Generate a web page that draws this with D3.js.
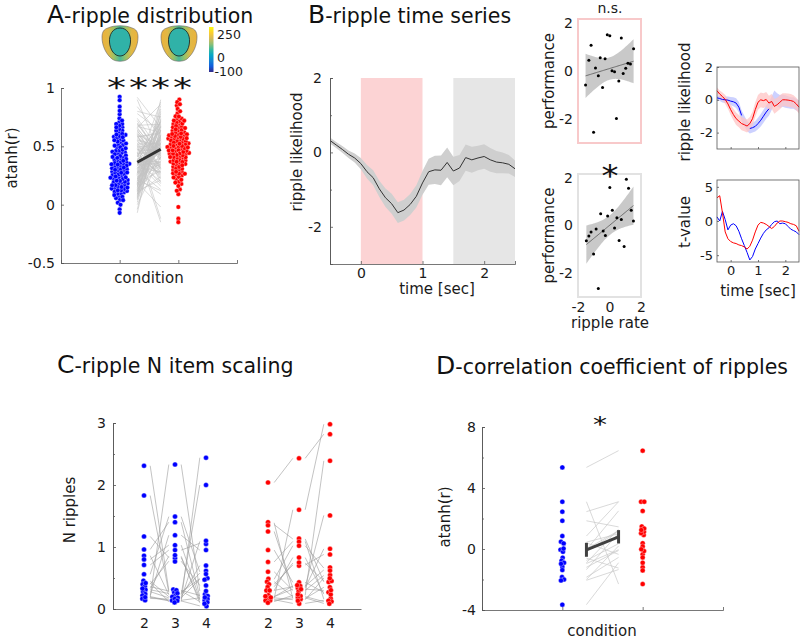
<!DOCTYPE html>
<html>
<head>
<meta charset="utf-8">
<script src="https://cdn.jsdelivr.net/npm/d3@7"></script>
<style>
body{margin:0;background:#fff}
svg{font-family:"DejaVu Sans",Verdana,sans-serif}
</style>
</head>
<body>
<div id="graphHolder"></div>
<script>
// ---------- data ----------
// A: atanh(r) per electrode, two conditions (paired)
const blueA = [0.31,0.62,0.18,0.45,0.08,0.53,0.27,0.70,0.14,0.39,
	0.22,0.58,0.35,0.11,0.48,0.92,0.26,0.05,0.66,0.33,
	0.19,0.41,0.74,0.29,0.12,0.55,0.37,0.21,0.63,0.16,
	0.44,0.02,0.30,0.51,0.24,0.68,0.09,0.36,0.57,0.17,
	0.84,0.28,0.43,0.13,0.60,0.32,-0.04,0.47,0.23,0.65,
	0.15,0.38,0.52,0.20,0.10,0.46,0.34,0.72,0.25,0.59,
	0.07,0.42,0.19,0.31,0.67,0.14,0.50,0.27,0.90,0.36,
	0.22,0.56,0.04,0.40,0.29,0.61,0.17,0.33,0.49,0.12,
	0.78,0.24,0.45,0.35,-0.07,0.54,0.20,0.64,0.30,0.16,
	0.42,0.26,0.69,0.11,0.37,0.58,0.21,0.47,0.13,0.32,
	0.80,0.23,0.39,0.06,0.52,0.28,0.18,0.44,0.66,0.34,
	0.09,0.55,0.25,0.41,0.15,0.60,0.00,0.38,0.27,0.48]
const redA = [0.52,0.31,0.68,0.44,0.85,0.27,0.59,0.40,0.73,0.18,
	0.49,0.62,0.35,0.56,0.22,0.66,0.47,0.90,0.38,0.54,
	0.29,0.71,0.45,0.13,0.60,0.51,0.33,0.78,0.42,0.57,
	0.25,0.64,0.48,-0.12,0.37,0.69,0.53,0.20,0.46,0.82,
	0.58,0.34,0.63,0.41,0.50,0.28,0.74,0.55,0.09,0.43,
	0.67,0.36,0.52,0.61,0.24,0.47,0.88,0.39,0.57,0.30,
	0.45,0.70,-0.02,0.53,0.62,0.32,0.49,0.76,0.41,0.16,
	0.59,0.44,0.65,0.27,0.51,0.38,0.72,0.55,0.46,0.21,
	0.63,0.35,-0.15,0.48,0.80,0.42,0.58,0.31,0.67,0.50,
	0.26,0.54,0.44,0.69,0.37,0.61,0.12,0.47,0.56,0.40,
	0.75,0.33,0.52,0.64,0.23,0.49,0.58,0.43,0.86,0.36,
	0.60,0.28,0.46,0.71,0.53,0.19,0.41,0.66,0.50,0.34]
const colorbarTicks = [250, 0, -100]

// B: ripple likelihood time course
const times = [-0.5,-0.4,-0.3,-0.2,-0.1,0,0.1,0.2,0.3,0.4,0.5,0.6,0.7,0.8,0.9,1.0,
	1.1,1.2,1.3,1.4,1.5,1.6,1.7,1.8,1.9,2.0,2.1,2.2,2.3,2.4,2.5]
const rippleMean = [0.32,0.2,0.08,-0.05,-0.15,-0.3,-0.52,-0.68,-0.98,-1.22,-1.38,-1.62,-1.55,-1.4,-1.18,-0.82,
	-0.52,-0.47,-0.48,-0.27,-0.5,-0.42,-0.14,-0.2,-0.15,-0.11,-0.2,-0.26,-0.28,-0.32,-0.44]
const rippleSem = [0.08,0.08,0.09,0.1,0.12,0.15,0.18,0.2,0.22,0.25,0.27,0.28,0.28,0.28,0.3,0.32,
	0.35,0.38,0.4,0.4,0.38,0.35,0.35,0.35,0.33,0.33,0.32,0.3,0.28,0.25,0.22]
const encWindow = [0, 1], retWindow = [1.5, 2.5]

// B: ripple rate vs performance
const rateEnc = [-1.52,-1.31,-1.17,-0.89,-0.71,-1.01,-0.59,-0.44,-0.28,-0.14,0.02,0.16,0.32,0.44,0.59,0.75,0.87,1.03,1.17,1.33,1.53]
const perfEnc = [-0.59,0.44,1.06,0.12,-0.21,-2.55,0.54,-0.7,0.5,1.5,1.45,0.0,-0.04,-1.98,-0.43,1.36,-0.11,0.1,0.31,0.28,0.91]
const rateRet = [-1.47,-1.31,-1.17,-1.01,-0.85,-0.71,-0.56,-0.4,-0.26,-0.12,0.02,0.18,0.32,0.47,0.61,0.75,0.93,1.07,1.21,1.38,1.52]
const perfRet = [-0.65,-0.45,-0.28,-1.2,-0.15,-2.64,0.49,-0.24,-0.42,0.39,1.58,0.63,-0.11,0.32,-0.63,0.25,-0.89,1.93,1.55,0.63,0.18]

// B: per-condition likelihood and t-values
const likeBlue = [0.12,0.08,0.02,0.0,-0.02,-0.08,-0.12,-0.2,-0.45,-0.95,-1.3,-1.6,-1.75,-1.7,-1.62,-1.45,
	-1.25,-1.0,-0.75,-0.55,-0.2,0.15,0.0,-0.1,-0.05,-0.1,-0.15,-0.2,-0.2,-0.3,-0.4]
const likeBlueSem = [0.15,0.15,0.18,0.2,0.22,0.25,0.28,0.3,0.32,0.32,0.32,0.3,0.3,0.3,0.32,0.35,
	0.38,0.4,0.4,0.42,0.42,0.42,0.4,0.4,0.38,0.38,0.36,0.35,0.35,0.35,0.35]
const blueGaps = [[0.45, 0.65], [1.45, 2.6]]
const likeRed = [0.55,0.35,0.2,0.02,-0.25,-0.6,-0.9,-1.15,-1.3,-1.45,-1.52,-1.6,-1.45,-1.15,-0.6,-0.15,
	0.0,-0.05,0.02,-0.2,-0.1,-0.4,-0.3,-0.15,0.0,0.0,-0.02,-0.05,-0.1,-0.25,-0.45]
const likeRedSem = [0.2,0.22,0.25,0.28,0.3,0.32,0.35,0.38,0.38,0.4,0.4,0.4,0.4,0.42,0.45,0.45,
	0.45,0.45,0.45,0.45,0.45,0.45,0.42,0.42,0.4,0.4,0.4,0.4,0.38,0.38,0.38]
const tBlue = [0.6,0.0,1.4,0.2,-1.3,-0.6,-0.4,-0.7,-1.5,-2.6,-3.6,-4.6,-5.7,-5.2,-4.1,-3.3,
	-2.5,-1.8,-1.3,-1.0,-0.5,-0.1,0.0,-0.4,-0.3,-0.4,-0.8,-1.2,-1.4,-1.6,-2.0]
const tRed = [3.4,3.7,1.2,-1.6,-2.6,-3.0,-3.2,-3.3,-3.5,-3.6,-3.8,-4.1,-3.7,-2.8,-1.6,-0.6,
	-0.2,-0.3,-0.5,-0.8,-1.1,-0.8,-0.3,0.0,0.0,-0.1,-0.2,-0.4,-0.5,-0.7,-1.5]

// C: N ripples per memory load (rows = subjects)
const loads = ['2', '3', '4']
const blueLoad2 = [2.31,1.83,1.17,0.96,0.86,0.80,0.71,0.56,0.45,0.40,0.36,0.31,0.28,0.22,0.20,0.18,0.17,0.19,0.33,0.42]
const blueLoad3 = [0.30,0.27,0.83,1.40,0.23,1.03,0.95,1.49,0.20,0.77,0.29,0.25,0.18,1.19,0.14,2.33,0.16,0.13,0.85,0.12]
const blueLoad4 = [0.22,0.49,0.14,0.20,2.00,0.16,1.06,0.60,0.70,0.38,0.12,0.58,0.48,0.95,0.18,0.29,1.09,0.05,0.10,2.44]
const redLoad2 = [2.04,1.39,1.36,1.25,0.95,0.76,0.60,0.48,0.44,0.40,0.36,0.30,0.20,0.17,0.15,0.14,0.20,0.30,0.18,0.12]
const redLoad3 = [2.43,0.17,1.13,0.34,0.43,1.09,0.30,1.02,0.20,0.71,0.74,0.83,0.37,1.60,0.09,0.18,0.32,0.36,0.15,0.22]
const redLoad4 = [2.82,0.35,0.44,0.97,0.27,0.16,0.54,0.66,0.12,0.88,0.45,0.24,0.63,2.98,0.14,0.09,0.30,1.51,0.50,2.39]

// D: correlation coefficient of ripples (paired)
const blueD = [5.35,3.1,2.45,1.85,0.85,0.45,0.4,-0.05,-0.15,-0.6,-0.75,-0.9,-1.2,-1.35,-1.85,-2.0,-2.05,-3.65,0.0,-0.95]
const redD = [6.45,-2.3,3.1,1.45,3.1,1.0,-0.35,2.5,1.15,-1.25,0.35,1.3,-0.1,1.05,-0.55,0.2,-1.35,-0.9,1.2,-0.05]

// ---------- drawing ----------
const BLUE = '#0000ff', RED = '#ff0000', INK = '#1a1a1a', AXC = '#555'
const svg = d3.select('#graphHolder').append('svg').attr('width', 800).attr('height', 643)
const fmt = d => String(d)

function axis(gen, x, y, size){
	const g = svg.append('g').attr('transform', `translate(${x},${y})`).call(gen)
	g.selectAll('path,line').attr('stroke', AXC).attr('stroke-width', 0.8)
	g.selectAll('text').attr('fill', INK).style('font-size', (size || 14) + 'px').style('font-family', 'DejaVu Sans')
	return g
}
function label(x, y, txt, rot, size){
	svg.append('text').attr('transform', `translate(${x},${y})` + (rot ? ' rotate(-90)' : ''))
		.attr('text-anchor', 'middle').attr('fill', INK).style('font-size', (size || 15) + 'px').text(txt)
}
function title(x, y, letter, rest){
	const t = svg.append('text').attr('x', x).attr('y', y).attr('fill', '#111')
	t.append('tspan').style('font-size', '25px').text(letter)
	t.append('tspan').style('font-size', '20.5px').text(rest)
}
// significance stars, squashed a little to match the flat asterisks of the figure
function star(x, y, txt, size, sy, spacing){
	svg.append('text').attr('transform', `translate(${x},${y}) scale(1,${sy})`).attr('text-anchor', 'middle')
		.attr('fill', '#111').style('font-size', size + 'px').style('letter-spacing', (spacing || 0) + 'px').text(txt)
}
// jitter points around a column with a small collision layout
function swarm(values, cx, y, r, sx){
	const nodes = values.map((v, i) => ({v: v, i: i, x: cx, y: y(v)}))
	const sim = d3.forceSimulation(nodes)
		.force('x', d3.forceX(cx).strength(sx))
		.force('y', d3.forceY(d => y(d.v)).strength(0.9))
		.force('collide', d3.forceCollide(r))
		.stop()
	for(let k = 0; k < 160; k++) sim.tick()
	return nodes
}
function dots(nodes, r, color){
	svg.append('g').selectAll('circle').data(nodes).enter().append('circle')
		.attr('cx', d => d.x).attr('cy', d => d.y).attr('r', r)
		.attr('fill', color).attr('stroke', '#fff').attr('stroke-width', 0.35)
}
const mean = a => d3.mean(a)
const sem = a => d3.deviation(a) / Math.sqrt(a.length)

// ===== A =====
title(47, 23, 'A', '-ripple distribution')
const defs = svg.append('defs')
const hg = defs.append('linearGradient').attr('id', 'headGrad')
;[[0,'#ecb23a'],[0.18,'#e0b846'],[0.34,'#98c266'],[0.5,'#46b89a'],[0.66,'#98c266'],[0.82,'#e0b846'],[1,'#ecb23a']]
	.forEach(s => hg.append('stop').attr('offset', s[0]).attr('stop-color', s[1]))
const parula = ['#352a87','#0f5cdd','#1283d4','#06a7c6','#38b99e','#92bf73','#d9ba56','#fcce2e','#f9fb0e']
const cg = defs.append('linearGradient').attr('id', 'cbar').attr('x1', 0).attr('x2', 0).attr('y1', 1).attr('y2', 0)
parula.forEach((c, i) => cg.append('stop').attr('offset', i / (parula.length - 1)).attr('stop-color', c))

function head(cx, cy){
	const g = svg.append('g').attr('transform', `translate(${cx},${cy})`)
	g.append('path').attr('d', 'M-12,-16C-6,-19 6,-19 12,-16C16,-15 18,-12 18,-7C18,2 14,10 8,15C4,18 -4,18 -8,15C-14,10 -18,2 -18,-7C-18,-12 -16,-15 -12,-16Z')
		.attr('fill', 'url(#headGrad)').attr('stroke', '#666').attr('stroke-width', 0.6)
	g.append('path').attr('d', 'M0,-16C7.5,-16 11,-9 10.5,-2C10,6 5.5,12 0,12C-5.5,12 -10,6 -10.5,-2C-11,-9 -7.5,-16 0,-16Z')
		.attr('fill', '#30b2a8').attr('stroke', '#1a1a1a').attr('stroke-width', 0.8)
}
head(120, 44)
head(179, 44)
const cbY = d3.scaleLinear().domain([-100, 250]).range([72, 27])
svg.append('rect').attr('x', 209).attr('y', cbY(250)).attr('width', 4.5).attr('height', cbY(-100) - cbY(250)).attr('fill', 'url(#cbar)')
svg.append('g').selectAll('text').data(colorbarTicks).enter().append('text')
	.attr('x', d => d < 0 ? 214.5 : 217).attr('y', d => cbY(d) + (d === 250 ? 12 : d === 0 ? 3 : 4))
	.attr('fill', INK).style('font-size', '12.5px').text(fmt)
star(151, 97, '****', 38, 0.7, 3)

const xA = d3.scaleLinear().domain([0, 3]).range([61, 237])
const yA = d3.scaleLinear().domain([-0.5, 1]).range([263, 88])
svg.append('g').selectAll('line').data(blueA).enter().append('line')
	.attr('x1', xA(1.3)).attr('x2', xA(1.7))
	.attr('y1', d => yA(d)).attr('y2', (d, i) => yA(redA[i]))
	.attr('stroke', '#c2c2c2').attr('stroke-width', 0.6)
svg.append('line').attr('x1', xA(1.3)).attr('x2', xA(1.7))
	.attr('y1', yA(mean(blueA))).attr('y2', yA(mean(redA)))
	.attr('stroke', '#333').attr('stroke-width', 3)
dots(swarm(blueA, xA(1), yA, 1.7, 0.12), 2.3, BLUE)
dots(swarm(redA, xA(2), yA, 1.7, 0.12), 2.3, RED)
axis(d3.axisLeft(yA).tickValues([-0.5, 0, 0.5, 1]).tickFormat(fmt).tickSize(-3).tickPadding(6), 61, 0)
axis(d3.axisBottom(xA).tickValues([1, 2]).tickFormat('').tickSize(-3), 0, 263)
label(149, 283, 'condition')
label(17, 158, 'atanh(r)', true)

// ===== B main =====
title(308, 23, 'B', '-ripple time series')
const xB = d3.scaleLinear().domain([-0.5, 2.5]).range([330, 515])
const yB = d3.scaleLinear().domain([-3, 2]).range([264, 78])
svg.append('rect').attr('x', xB(encWindow[0])).attr('width', xB(encWindow[1]) - xB(encWindow[0]))
	.attr('y', yB(2)).attr('height', yB(-3) - yB(2)).attr('fill', '#fcd3d4')
svg.append('rect').attr('x', xB(retWindow[0])).attr('width', xB(retWindow[1]) - xB(retWindow[0]))
	.attr('y', yB(2)).attr('height', yB(-3) - yB(2)).attr('fill', '#e6e6e6')
const rows = times.map((t, i) => ({t: t, m: rippleMean[i], s: rippleSem[i]}))
svg.append('path').datum(rows).attr('fill', '#cfcfcf')
	.attr('d', d3.area().x(d => xB(d.t)).y0(d => yB(d.m - d.s)).y1(d => yB(d.m + d.s)))
svg.append('path').datum(rows).attr('fill', 'none').attr('stroke', '#333').attr('stroke-width', 1)
	.attr('d', d3.line().x(d => xB(d.t)).y(d => yB(d.m)))
axis(d3.axisLeft(yB).tickValues([-2, 0, 2]).tickFormat(fmt).tickSize(-3).tickPadding(8), 330, 0)
axis(d3.axisLeft(yB).tickValues([-1, 1]).tickFormat('').tickSize(-2), 330, 0)
axis(d3.axisBottom(xB).tickValues([0, 1, 2]).tickFormat(fmt).tickSize(-3).tickPadding(4), 0, 264)
label(437, 294, 'time [sec]')
label(302, 152, 'ripple likelihood', true)

// ===== B scatters =====
function scatterPanel(xs, ys, top, bottom, border, showX){
	const x = d3.scaleLinear().domain([-2, 2]).range([578, 641])
	const y = d3.scaleLinear().domain([-3, 2.15]).range([bottom, top])
	const n = xs.length, mx = mean(xs), my = mean(ys)
	const sxx = d3.sum(xs, v => (v - mx) * (v - mx))
	const b = d3.sum(xs, (v, i) => (v - mx) * (ys[i] - my)) / sxx, a = my - b * mx
	const s = Math.sqrt(d3.sum(xs, (v, i) => Math.pow(ys[i] - a - b * v, 2)) / (n - 2))
	const ext = d3.extent(xs)
	const grid = d3.range(0, 41).map(k => ext[0] + (ext[1] - ext[0]) * k / 40)
	const band = grid.map(v => ({x: v, f: a + b * v, h: 2.09 * s * Math.sqrt(1 / n + (v - mx) * (v - mx) / sxx)}))
	svg.append('rect').attr('x', 578).attr('y', top).attr('width', 63).attr('height', bottom - top)
		.attr('fill', 'none').attr('stroke', border).attr('stroke-width', 2)
	svg.append('path').datum(band).attr('fill', '#c9c9c9')
		.attr('d', d3.area().x(d => x(d.x)).y0(d => y(d.f - d.h)).y1(d => y(d.f + d.h)))
	svg.append('path').datum(band).attr('fill', 'none').attr('stroke', '#555').attr('stroke-width', 0.8)
		.attr('d', d3.line().x(d => x(d.x)).y(d => y(d.f)))
	svg.append('g').selectAll('circle').data(xs).enter().append('circle')
		.attr('cx', d => x(d)).attr('cy', (d, i) => y(ys[i])).attr('r', 1.5).attr('fill', '#000')
	const ya = axis(d3.axisLeft(y).tickValues([-2, 0, 2]).tickFormat(fmt).tickSize(0).tickPadding(5), 578, 0)
	ya.select('.domain').remove()
	if(showX){
		const xa = axis(d3.axisBottom(x).tickValues([-2, 0, 2]).tickFormat(fmt).tickSize(0).tickPadding(5), 0, bottom)
		xa.select('.domain').remove()
	}
	label(554, (top + bottom) / 2, 'performance', true)
}
scatterPanel(rateEnc, perfEnc, 19, 143, '#f8c9ca', false)
scatterPanel(rateRet, perfRet, 174, 297, '#e2e2e2', true)
label(610, 13, 'n.s.', false, 14)
star(610, 186, '*', 34, 0.9)
label(610, 328, 'ripple rate')

// ===== B small right panels =====
const xS = d3.scaleLinear().domain([-0.5, 2.5]).range([717, 799])
const yS1 = d3.scaleLinear().domain([-3, 2]).range([149, 67])
const yS2 = d3.scaleLinear().domain([-6, 6]).range([262, 180])
function box(y0, y1){
	svg.append('rect').attr('x', 717).attr('y', y0).attr('width', 82).attr('height', y1 - y0)
		.attr('fill', 'none').attr('stroke', AXC).attr('stroke-width', 0.8)
}
const inGap = t => blueGaps.some(g => t > g[0] && t < g[1])
const rowsBlue = times.map((t, i) => ({t: t, m: likeBlue[i], s: likeBlueSem[i]}))
const rowsRed = times.map((t, i) => ({t: t, m: likeRed[i], s: likeRedSem[i]}))
const areaS = d3.area().x(d => xS(d.t)).y0(d => yS1(d.m - d.s)).y1(d => yS1(d.m + d.s))
svg.append('path').datum(rowsBlue).attr('fill', '#bfc6ff').attr('opacity', 0.8).attr('d', areaS)
svg.append('path').datum(rowsRed).attr('fill', '#ffc4c4').attr('opacity', 0.75).attr('d', areaS)
svg.append('path').datum(rowsBlue).attr('fill', 'none').attr('stroke', BLUE).attr('stroke-width', 1)
	.attr('d', d3.line().defined(d => !inGap(d.t)).x(d => xS(d.t)).y(d => yS1(d.m)))
svg.append('path').datum(rowsRed).attr('fill', 'none').attr('stroke', RED).attr('stroke-width', 1)
	.attr('d', d3.line().x(d => xS(d.t)).y(d => yS1(d.m)))
box(67, 149)
axis(d3.axisLeft(yS1).tickValues([-2, 0, 2]).tickFormat(fmt).tickSize(-2).tickPadding(4), 717, 0, 13).select('.domain').remove()
axis(d3.axisBottom(xS).tickValues([0, 1, 2]).tickFormat('').tickSize(-2), 0, 149).select('.domain').remove()
label(690, 102, 'ripple likelihood', true)

svg.append('path').datum(tBlue).attr('fill', 'none').attr('stroke', BLUE).attr('stroke-width', 1)
	.attr('d', d3.line().x((d, i) => xS(times[i])).y(d => yS2(d)))
svg.append('path').datum(tRed).attr('fill', 'none').attr('stroke', RED).attr('stroke-width', 1)
	.attr('d', d3.line().x((d, i) => xS(times[i])).y(d => yS2(d)))
box(180, 262)
axis(d3.axisLeft(yS2).tickValues([-5, 0, 5]).tickFormat(fmt).tickSize(-2).tickPadding(4), 717, 0, 13).select('.domain').remove()
axis(d3.axisBottom(xS).tickValues([0, 1, 2]).tickFormat(fmt).tickSize(-2).tickPadding(4), 0, 262, 13).select('.domain').remove()
label(758, 296, 'time [sec]')
label(690, 222, 't-value', true)

// ===== C =====
title(57, 373, 'C', '-ripple N item scaling')
const xC = d3.scaleLinear().domain([0, 8]).range([113, 361])
const yC = d3.scaleLinear().domain([0, 3]).range([609, 423])
const groups = [
	{start: 1, color: BLUE, sets: [blueLoad2, blueLoad3, blueLoad4]},
	{start: 5, color: RED, sets: [redLoad2, redLoad3, redLoad4]}
]
const tickPos = [], tickLab = []
groups.forEach(gr => {
	gr.sets.forEach((set, k) => {
		tickPos.push(gr.start + k); tickLab.push(loads[k])
		if(k < gr.sets.length - 1){
			const next = gr.sets[k + 1]
			svg.append('g').selectAll('line').data(set).enter().append('line')
				.attr('x1', xC(gr.start + k + 0.2)).attr('x2', xC(gr.start + k + 0.8))
				.attr('y1', d => yC(d)).attr('y2', (d, i) => yC(next[i]))
				.attr('stroke', '#9a9a9a').attr('stroke-width', 0.6)
		}
	})
	gr.sets.forEach((set, k) => dots(swarm(set, xC(gr.start + k), yC, 1.6, 0.5), 2.5, gr.color))
})
axis(d3.axisLeft(yC).tickValues([0, 1, 2, 3]).tickFormat(fmt).tickSize(-3).tickPadding(7), 113, 0)
axis(d3.axisLeft(yC).tickValues([0.5, 1.5, 2.5]).tickFormat('').tickSize(-2), 113, 0)
axis(d3.axisBottom(xC).tickValues(tickPos).tickFormat((d, i) => tickLab[i]).tickSize(0).tickPadding(9), 0, 609)
label(75, 510, 'N ripples', true)

// ===== D =====
title(436, 374, 'D', '-correlation coefficient of ripples')
const xD = d3.scaleLinear().domain([0, 3]).range([482, 723])
const yD = d3.scaleLinear().domain([-4, 8]).range([610, 427])
svg.append('g').selectAll('line').data(blueD).enter().append('line')
	.attr('x1', xD(1.3)).attr('x2', xD(1.7))
	.attr('y1', d => yD(d)).attr('y2', (d, i) => yD(redD[i]))
	.attr('stroke', '#c8c8c8').attr('stroke-width', 0.7)
const mB = mean(blueD), mR = mean(redD), sB = sem(blueD), sR = sem(redD)
const gm = svg.append('g').attr('stroke', '#404040').attr('stroke-width', 3)
gm.append('line').attr('x1', xD(1.3)).attr('x2', xD(1.7)).attr('y1', yD(mB)).attr('y2', yD(mR))
gm.append('line').attr('x1', xD(1.3)).attr('x2', xD(1.3)).attr('y1', yD(mB - sB)).attr('y2', yD(mB + sB))
gm.append('line').attr('x1', xD(1.7)).attr('x2', xD(1.7)).attr('y1', yD(mR - sR)).attr('y2', yD(mR + sR))
dots(swarm(blueD, xD(1), yD, 1.6, 0.5), 2.5, BLUE)
dots(swarm(redD, xD(2), yD, 1.6, 0.5), 2.5, RED)
axis(d3.axisLeft(yD).tickValues([-4, 0, 4, 8]).tickFormat(fmt).tickSize(-3).tickPadding(6), 482, 0)
axis(d3.axisLeft(yD).tickValues([-2, 2, 6]).tickFormat('').tickSize(-2), 482, 0)
axis(d3.axisBottom(xD).tickValues([1, 2]).tickFormat('').tickSize(-3), 0, 610)
star(600, 432, '*', 28, 0.75)
label(602, 636, 'condition')
label(450, 517, 'atanh(r)', true)
</script>
</body>
</html>
